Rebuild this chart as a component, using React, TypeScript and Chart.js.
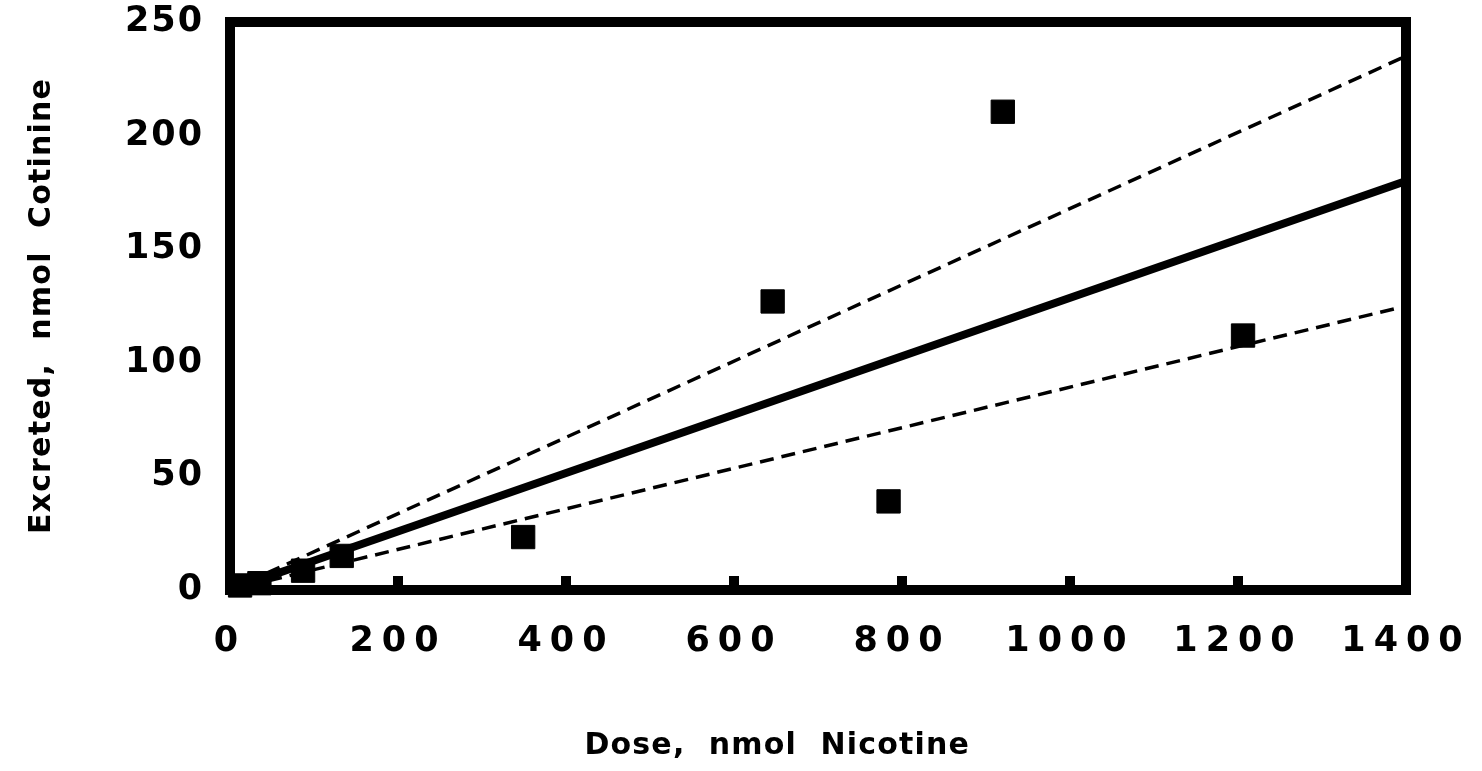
import React, { useEffect, useRef } from 'react';
import { Chart, registerables } from 'chart.js';

Chart.register(...registerables);

// ---- data ----
const doseNicotine = [12, 35, 87, 133, 349, 646, 784, 920, 1206];
const excretedCotinine = [2, 3, 8.5, 15, 23.3, 127, 39, 210.5, 112];

const fitX = [20, 1400];
const fitMean = [2.6, 180];
const fitUpper = [3.4, 235];
const fitLower = [1.8, 125];

const xTickValues = [0, 200, 400, 600, 800, 1000, 1200, 1400];
const yTickValues = [0, 50, 100, 150, 200, 250];

const xTitle = 'Dose,  nmol  Nicotine\u00a0\u00a0\u00a0\u00a0\u00a0\u00a0\u00a0';
const yTitle = 'Excreted,  nmol  Cotinine';

const FONT = "'DejaVu Sans', 'Liberation Sans', sans-serif";

const pts = (xs: number[], ys: number[]) => xs.map((x, i) => ({ x, y: ys[i] }));

const spacingPlugin = {
  id: 'letterSpacing',
  beforeDraw(chart: any) {
    const cfg: Array<[string, number, number]> = [
      ['x', 8, 1.2],
      ['y', 2, 1.2],
    ];
    for (const [id, tickSp, titleSp] of cfg) {
      const s = chart.scales[id];
      if (!s || s.__patched) continue;
      const ctx = chart.ctx;
      const origLabels = s.drawLabels.bind(s);
      const origTitle = s.drawTitle.bind(s);
      s.drawLabels = (area: any) => {
        ctx.save();
        (ctx as any).letterSpacing = tickSp + 'px';
        origLabels(area);
        ctx.restore();
      };
      s.drawTitle = () => {
        ctx.save();
        (ctx as any).letterSpacing = titleSp + 'px';
        origTitle();
        ctx.restore();
      };
      s.__patched = true;
    }
  },
};

const framePlugin = {
  id: 'frame',
  afterDraw(chart: any) {
    const { ctx, chartArea } = chart;
    const xs = chart.scales.x;
    ctx.save();
    ctx.fillStyle = '#000';
    // inward tick marks on the x axis
    for (const v of xTickValues) {
      if (v === xs.min || v === xs.max) continue;
      const px = xs.getPixelForValue(v);
      ctx.fillRect(px - 5, chartArea.bottom - 14, 10, 14);
    }
    ctx.strokeStyle = '#000';
    ctx.lineWidth = 10;
    ctx.lineJoin = 'miter';
    ctx.strokeRect(chartArea.left, chartArea.top, chartArea.right - chartArea.left, chartArea.bottom - chartArea.top);
    ctx.restore();
  },
};

const zeroPad = (s: any) => {
  s.paddingLeft = 0;
  s.paddingRight = 0;
  s.paddingTop = 0;
  s.paddingBottom = 0;
};

export default function App() {
  const ref = useRef<HTMLCanvasElement | null>(null);

  useEffect(() => {
    document.body.style.margin = '0';
    const canvas = ref.current;
    if (!canvas) return;
    const chart = new Chart(canvas, {
      type: 'scatter',
      data: {
        datasets: [
          {
            label: 'upper',
            data: pts(fitX, fitUpper),
            showLine: true,
            borderColor: '#000',
            borderWidth: 3.5,
            borderDash: [14, 8],
            pointRadius: 0,
            fill: false,
          },
          {
            label: 'lower',
            data: pts(fitX, fitLower),
            showLine: true,
            borderColor: '#000',
            borderWidth: 3.5,
            borderDash: [14, 8],
            pointRadius: 0,
            fill: false,
          },
          {
            label: 'mean',
            data: pts(fitX, fitMean),
            showLine: true,
            borderColor: '#000',
            borderWidth: 8,
            pointRadius: 0,
            fill: false,
          },
          {
            label: 'data',
            data: pts(doseNicotine, excretedCotinine),
            pointStyle: 'rect',
            pointRadius: 16.5,
            pointBackgroundColor: '#000',
            pointBorderColor: '#000',
            pointBorderWidth: 1,
            showLine: false,
            clip: false,
          } as any,
        ],
      },
      options: {
        animation: false,
        responsive: true,
        maintainAspectRatio: false,
        layout: { padding: { left: 0, top: 22, right: 76, bottom: 0 } },
        plugins: {
          legend: { display: false },
          tooltip: { enabled: false },
        },
        scales: {
          x: {
            type: 'linear',
            min: 0,
            max: 1400,
            afterFit: (s: any) => {
              s.height = 181;
              zeroPad(s);
            },
            afterBuildTicks: (s: any) => {
              s.ticks = xTickValues.map((v) => ({ value: v }));
            },
            grid: { display: false, drawTicks: false },
            border: { display: false },
            ticks: {
              color: '#000',
              padding: 31,
              maxRotation: 0,
              callback: (v: any) => String(v),
              font: { family: FONT, size: 35, weight: 'bold' },
            },
            title: {
              display: true,
              text: xTitle,
              color: '#000',
              padding: { top: 0, bottom: 7 },
              font: { family: FONT, size: 30, weight: 'bold' },
            },
          },
          y: {
            type: 'linear',
            min: 0,
            max: 250,
            afterFit: (s: any) => {
              s.width = 230;
              zeroPad(s);
            },
            afterBuildTicks: (s: any) => {
              s.ticks = yTickValues.map((v) => ({ value: v }));
            },
            grid: { display: false, drawTicks: false },
            border: { display: false },
            ticks: {
              color: '#000',
              padding: 26,
              callback: (v: any) => String(v),
              font: { family: FONT, size: 35, weight: 'bold' },
            },
            title: {
              display: true,
              text: yTitle,
              color: '#000',
              padding: { top: 24, bottom: 0 },
              font: { family: FONT, size: 30, weight: 'bold' },
            },
          },
        },
      },
      plugins: [spacingPlugin, framePlugin],
    } as any);
    return () => chart.destroy();
  }, []);

  return (
    <div style={{ position: 'fixed', left: 0, top: 0, width: 1482, height: 771, background: '#fff' }}>
      <canvas ref={ref} />
    </div>
  );
}
